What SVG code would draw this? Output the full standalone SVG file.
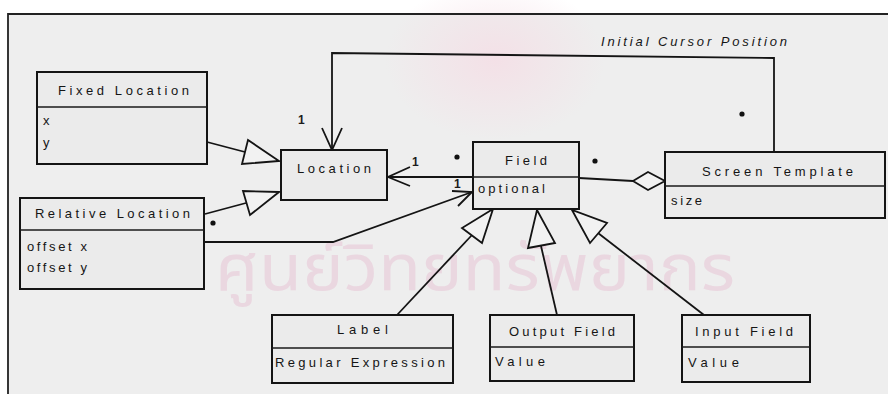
<svg xmlns="http://www.w3.org/2000/svg" width="888" height="394" viewBox="0 0 888 394">
  <defs>
    <radialGradient id="stamp" cx="0.5" cy="0.5" r="0.5">
      <stop offset="0" stop-color="#f5dde5" stop-opacity="0.8"/>
      <stop offset="1" stop-color="#f5dde5" stop-opacity="0"/>
    </radialGradient>
    <style>
      .box { fill: #ebebeb; stroke: #141414; stroke-width: 2; }
      .div { stroke: #1a1a1a; stroke-width: 1.6; fill: none; }
      .t { font-family: "Liberation Sans", Arial, sans-serif; font-size: 13px; fill: #151515; }
      .line { stroke: #141414; stroke-width: 1.8; fill: none; }
      .gen { stroke: #141414; stroke-width: 1.8; fill: #f2f2f2; stroke-linejoin: miter; }
      .open { stroke: #141414; stroke-width: 1.8; fill: none; }
      .dot { fill: #111; }
      .mult { font-family: "Liberation Sans", Arial, sans-serif; font-size: 12px; font-weight: bold; fill: #1c1c1c; }
      .wm { font-family: "Noto Sans Thai", "Noto Sans", "DejaVu Sans", sans-serif; fill: #ead7e0; }
    </style>
  </defs>

  <!-- page and frame -->
  <rect x="0" y="0" width="888" height="394" fill="#ffffff"/>
  <rect x="8" y="14" width="880" height="380" fill="#eeeeee"/>
  <ellipse cx="495" cy="60" rx="110" ry="80" fill="url(#stamp)"/>
  <text class="wm" x="215" y="290" font-size="64" textLength="520" lengthAdjust="spacingAndGlyphs">ศูนย์วิทยทรัพยากร</text>
  <path d="M888 14 H8 V394" fill="none" stroke="#222" stroke-width="1.8"/>

  <!-- connectors -->
  <g id="connectors">
    <!-- Initial Cursor Position: Screen Template -> Location -->
    <path class="line" d="M774 152 V58 L332 53 V150"/>
    <path class="open" d="M322 128 L332 150 L342 128"/>
    <!-- Field -> Location -->
    <path class="line" d="M473 177 H388"/>
    <path class="open" d="M410 167 L388 177 L410 186"/>
    <!-- Field <>- Screen Template -->
    <path class="line" d="M579 178 L633 181"/>
    <path class="gen" d="M633 181 L648 172 L665 181 L648 190 Z"/>
    <!-- Relative Location -> Field -->
    <path class="line" d="M204 242 H333 L472 192"/>
    <path class="open" d="M452 191 L472 192 L458 206"/>
    <!-- generalizations to Location -->
    <path class="line" d="M207 142 L245 152"/>
    <path class="gen" d="M279 161 L248 140 L242 164 Z"/>
    <path class="line" d="M205 214 L246 203"/>
    <path class="gen" d="M279 192 L243 191 L250 215 Z"/>
    <!-- generalizations to Field -->
    <path class="line" d="M397 315 L472 235"/>
    <path class="gen" d="M493 209 L462 228 L482 243 Z"/>
    <path class="line" d="M557 315 L541 246"/>
    <path class="gen" d="M537 210 L528 248 L555 243 Z"/>
    <path class="line" d="M704 315 L598 233"/>
    <path class="gen" d="M572 210 L590 243 L607 223 Z"/>
  </g>

  <!-- multiplicities and role name -->
  <g id="labels">
    <text class="t" x="601" y="46" font-style="italic" textLength="186" lengthAdjust="spacing">Initial Cursor Position</text>
    <circle class="dot" cx="742" cy="114" r="2.6"/>
    <circle class="dot" cx="595" cy="161" r="2.6"/>
    <circle class="dot" cx="457" cy="157" r="2.6"/>
    <circle class="dot" cx="213" cy="223" r="2.6"/>
    <text class="mult" x="298" y="124">1</text>
    <text class="mult" x="412" y="166">1</text>
    <text class="mult" x="454" y="188">1</text>
  </g>

  <g id="fixed-location">
    <rect class="box" x="37" y="72" width="170" height="92"/>
    <line class="div" x1="37" y1="107" x2="207" y2="107"/>
    <text class="t" x="58" y="95" textLength="131" lengthAdjust="spacing">Fixed Location</text>
    <text class="t" x="43" y="125">x</text>
    <text class="t" x="43" y="147">y</text>
  </g>

  <g id="relative-location">
    <rect class="box" x="20" y="198" width="184" height="91"/>
    <line class="div" x1="20" y1="230" x2="204" y2="230"/>
    <text class="t" x="35" y="218" textLength="155" lengthAdjust="spacing">Relative Location</text>
    <text class="t" x="27" y="251" textLength="60" lengthAdjust="spacing">offset x</text>
    <text class="t" x="27" y="272" textLength="60" lengthAdjust="spacing">offset y</text>
  </g>

  <g id="location">
    <rect class="box" x="281" y="150" width="106" height="50"/>
    <text class="t" x="297" y="173" textLength="74" lengthAdjust="spacing">Location</text>
  </g>

  <g id="field">
    <rect class="box" x="473" y="142" width="106" height="67"/>
    <line class="div" x1="473" y1="177" x2="579" y2="177"/>
    <text class="t" x="505" y="165" textLength="42" lengthAdjust="spacing">Field</text>
    <text class="t" x="478" y="193" textLength="67" lengthAdjust="spacing">optional</text>
  </g>

  <g id="screen-template">
    <rect class="box" x="665" y="152" width="220" height="66"/>
    <line class="div" x1="665" y1="186" x2="885" y2="186"/>
    <text class="t" x="702" y="176" textLength="151" lengthAdjust="spacing">Screen Template</text>
    <text class="t" x="671" y="205" textLength="31" lengthAdjust="spacing">size</text>
  </g>

  <g id="label">
    <rect class="box" x="272" y="315" width="181" height="68"/>
    <line class="div" x1="272" y1="348" x2="453" y2="348"/>
    <text class="t" x="337" y="334" textLength="51" lengthAdjust="spacing">Label</text>
    <text class="t" x="275" y="367" textLength="170" lengthAdjust="spacing">Regular Expression</text>
  </g>

  <g id="output-field">
    <rect class="box" x="490" y="315" width="144" height="66"/>
    <line class="div" x1="490" y1="347" x2="634" y2="347"/>
    <text class="t" x="509" y="336" textLength="106" lengthAdjust="spacing">Output Field</text>
    <text class="t" x="495" y="366" textLength="50" lengthAdjust="spacing">Value</text>
  </g>

  <g id="input-field">
    <rect class="box" x="682" y="315" width="128" height="67"/>
    <line class="div" x1="682" y1="347" x2="810" y2="347"/>
    <text class="t" x="695" y="336" textLength="98" lengthAdjust="spacing">Input Field</text>
    <text class="t" x="688" y="367" textLength="51" lengthAdjust="spacing">Value</text>
  </g>
</svg>
